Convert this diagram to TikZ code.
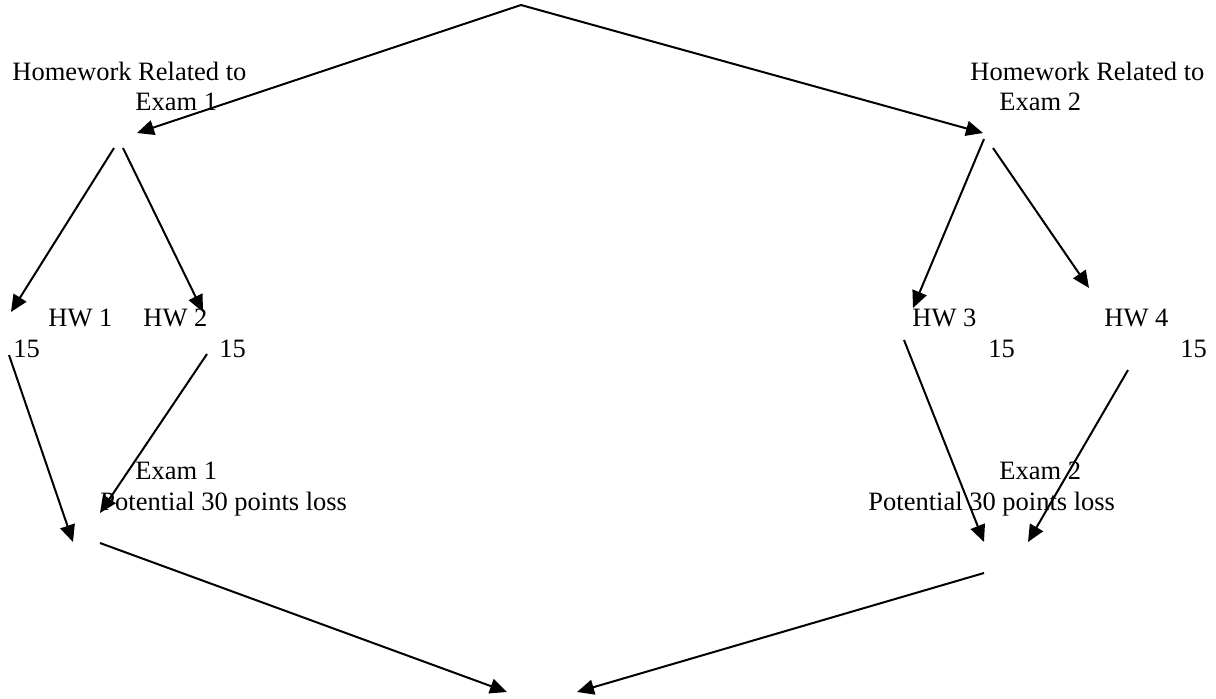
\documentclass[tikz,border=0pt]{standalone}
\usepackage{fontspec}
\setmainfont{Liberation Serif}
\usetikzlibrary{arrows.meta,positioning}

\begin{document}
\begin{tikzpicture}[
  x=0.5pt, y=-0.5pt,
  label text/.style={anchor=base west, inner sep=0pt, font=\fontsize{13.25}{15}\selectfont},
  link/.style={->, line width=1pt},
  >={Triangle[length=8.5pt, width=7.5pt]}
]
  \useasboundingbox (0,0) rectangle (1216,698);

  % Connector end points
  \coordinate (top) at (521,5);
  \coordinate (grpA in) at (137,133);
  \coordinate (grpB in) at (983,133);
  \coordinate (grpA outl) at (114,148);
  \coordinate (grpA outr) at (123,148);
  \coordinate (grpB outl) at (984,139);
  \coordinate (grpB outr) at (993,148);
  \coordinate (hwA in) at (11,312);
  \coordinate (hwB in) at (203,312);
  \coordinate (hwC in) at (913,308);
  \coordinate (hwD in) at (1089,288);
  \coordinate (hwA out) at (9,355);
  \coordinate (hwB out) at (207,354);
  \coordinate (hwC out) at (904,340);
  \coordinate (hwD out) at (1128,370);
  \coordinate (examA inl) at (73,542);
  \coordinate (examA inr) at (100,513);
  \coordinate (examB inl) at (984,542);
  \coordinate (examB inr) at (1028,542);
  \coordinate (examA out) at (100,543);
  \coordinate (examB out) at (984,573);
  \coordinate (botl) at (507,692);
  \coordinate (botr) at (577,692);

  % Labels
  \node[label text] (grpA1) at (12,80) {Homework Related to};
  \node[label text] (grpA2) at (135,110) {Exam 1};
  \node[label text] (grpB1) at (970,80) {Homework Related to};
  \node[label text] (grpB2) at (999,110) {Exam 2};

  \node[label text] (hwA) at (48,326) {HW 1};
  \node[label text] (hwB) at (143,326) {HW 2};
  \node[label text] (hwC) at (912,326) {HW 3};
  \node[label text] (hwD) at (1104,326) {HW 4};
  \node[label text] (ptsA) at (13,357) {15};
  \node[label text] (ptsB) at (219,357) {15};
  \node[label text] (ptsC) at (988,357) {15};
  \node[label text] (ptsD) at (1180,357) {15};

  \node[label text] (examA1) at (135,479) {Exam 1};
  \node[label text] (examA2) at (100,510) {Potential 30 points loss};
  \node[label text] (examB1) at (999,479) {Exam 2};
  \node[label text] (examB2) at (868,510) {Potential 30 points loss};

  % Arrows
  \draw[link] (top) -- (grpA in);
  \draw[link] (top) -- (grpB in);
  \draw[link] (grpA outl) -- (hwA in);
  \draw[link] (grpA outr) -- (hwB in);
  \draw[link] (grpB outl) -- (hwC in);
  \draw[link] (grpB outr) -- (hwD in);
  \draw[link] (hwA out) -- (examA inl);
  \draw[link] (hwB out) -- (examA inr);
  \draw[link] (hwC out) -- (examB inl);
  \draw[link] (hwD out) -- (examB inr);
  \draw[link] (examA out) -- (botl);
  \draw[link] (examB out) -- (botr);
\end{tikzpicture}
\end{document}
